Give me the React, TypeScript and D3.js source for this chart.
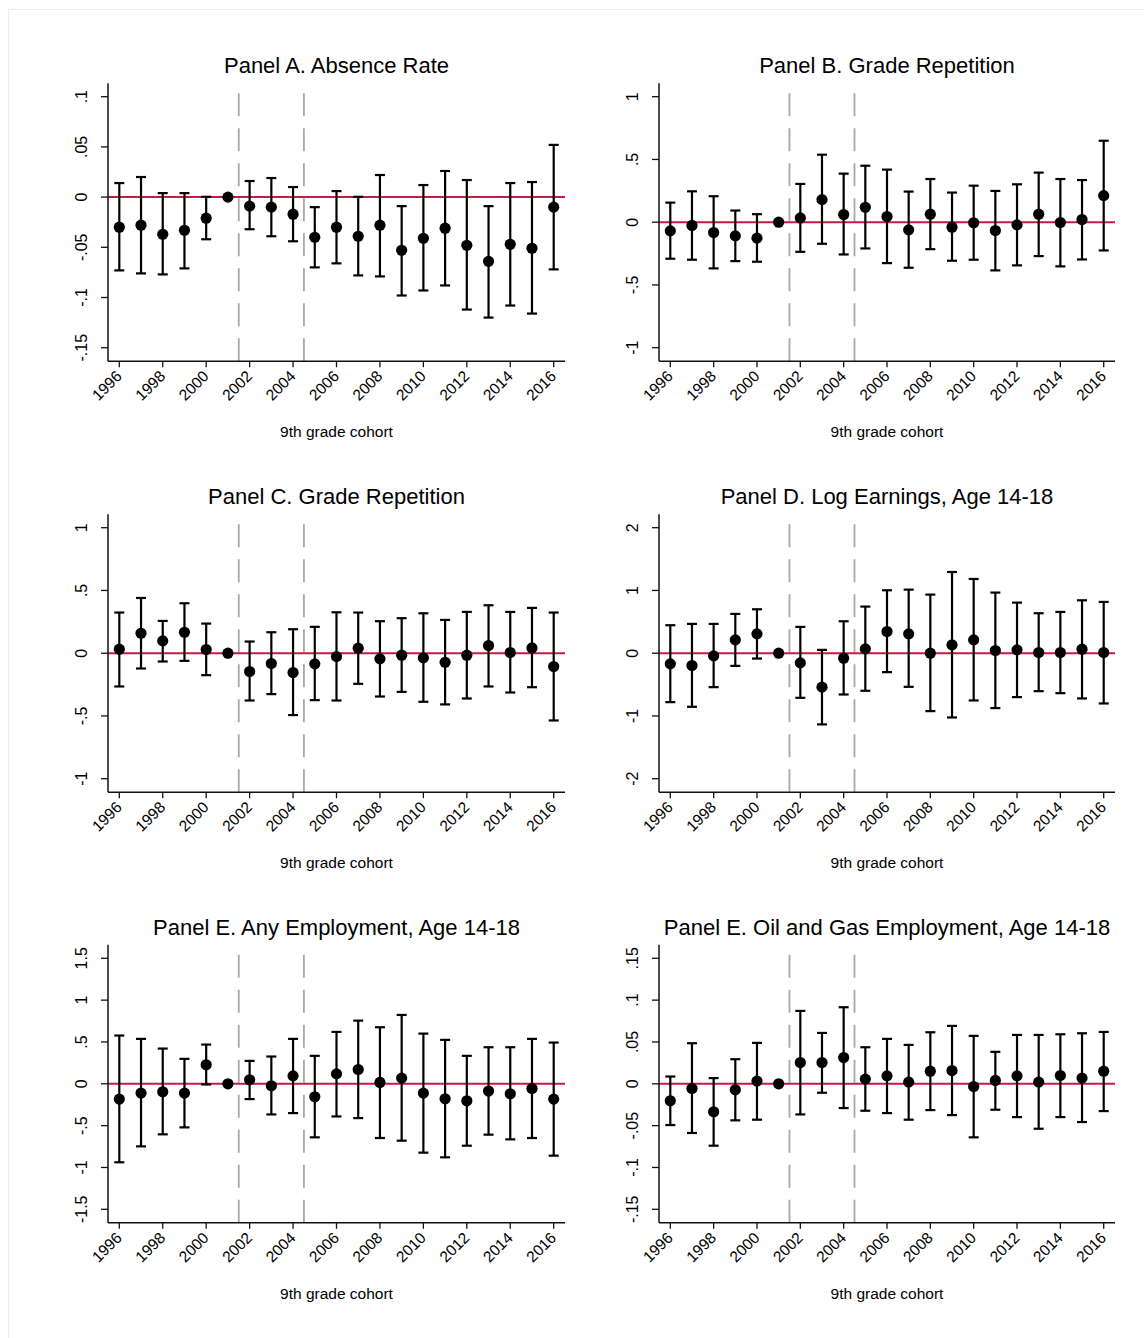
import React from "react";
import * as d3 from "d3";

const years = [1996, 1997, 1998, 1999, 2000, 2001, 2002, 2003, 2004, 2005, 2006, 2007, 2008, 2009, 2010, 2011, 2012, 2013, 2014, 2015, 2016];
const xTickYears = [1996, 1998, 2000, 2002, 2004, 2006, 2008, 2010, 2012, 2014, 2016];
const cutoffYears = [2001.5, 2004.5];

// Panel A. Absence Rate
const absEst = [-0.030, -0.028, -0.037, -0.033, -0.021, 0, -0.009, -0.010, -0.017, -0.040, -0.030, -0.039, -0.028, -0.053, -0.041, -0.031, -0.048, -0.064, -0.047, -0.051, -0.010];
const absHi = [0.014, 0.020, 0.004, 0.004, 0.0003, null, 0.016, 0.019, 0.010, -0.010, 0.006, 0.0003, 0.022, -0.009, 0.012, 0.026, 0.017, -0.009, 0.014, 0.015, 0.052];
const absLo = [-0.073, -0.076, -0.077, -0.071, -0.042, null, -0.032, -0.039, -0.044, -0.070, -0.066, -0.078, -0.079, -0.098, -0.093, -0.088, -0.112, -0.120, -0.108, -0.116, -0.072];
const absTicks = [0.1, 0.05, 0, -0.05, -0.1, -0.15];

// Panel B. Grade Repetition
const repBEst = [-0.069, -0.026, -0.082, -0.109, -0.127, 0, 0.034, 0.180, 0.061, 0.119, 0.045, -0.061, 0.064, -0.040, -0.005, -0.066, -0.021, 0.064, -0.003, 0.021, 0.212];
const repBHi = [0.156, 0.246, 0.207, 0.093, 0.064, null, 0.305, 0.538, 0.387, 0.450, 0.419, 0.244, 0.344, 0.236, 0.291, 0.249, 0.302, 0.395, 0.344, 0.336, 0.649];
const repBLo = [-0.291, -0.299, -0.368, -0.310, -0.315, null, -0.236, -0.172, -0.257, -0.209, -0.326, -0.363, -0.215, -0.307, -0.299, -0.384, -0.344, -0.270, -0.352, -0.297, -0.225];
const repBTicks = [1, 0.5, 0, -0.5, -1];

// Panel C. Grade Repetition
const repCEst = [0.032, 0.159, 0.098, 0.167, 0.029, 0, -0.146, -0.082, -0.154, -0.085, -0.027, 0.040, -0.045, -0.016, -0.037, -0.072, -0.016, 0.061, 0.005, 0.042, -0.106];
const repCHi = [0.324, 0.440, 0.257, 0.398, 0.236, null, 0.093, 0.167, 0.191, 0.210, 0.326, 0.324, 0.255, 0.279, 0.318, 0.265, 0.329, 0.382, 0.329, 0.361, 0.324];
const repCLo = [-0.265, -0.122, -0.066, -0.061, -0.175, null, -0.377, -0.326, -0.493, -0.374, -0.377, -0.244, -0.345, -0.308, -0.387, -0.408, -0.361, -0.265, -0.313, -0.271, -0.536];
const repCTicks = [1, 0.5, 0, -0.5, -1];

// Panel D. Log Earnings, Age 14-18
const earnEst = [-0.170, -0.196, -0.042, 0.212, 0.308, 0, -0.154, -0.541, -0.080, 0.069, 0.345, 0.308, 0.0, 0.133, 0.212, 0.042, 0.053, 0.011, 0.011, 0.064, 0.011];
const earnHi = [0.446, 0.467, 0.467, 0.626, 0.700, null, 0.419, 0.053, 0.509, 0.743, 1.003, 1.013, 0.934, 1.294, 1.183, 0.966, 0.806, 0.637, 0.658, 0.843, 0.817];
const earnLo = [-0.780, -0.854, -0.541, -0.202, -0.085, null, -0.711, -1.135, -0.658, -0.599, -0.302, -0.536, -0.923, -1.024, -0.753, -0.875, -0.700, -0.605, -0.637, -0.721, -0.801];
const earnTicks = [2, 1, 0, -1, -2];

// Panel E. Any Employment, Age 14-18
const empEst = [-0.183, -0.111, -0.095, -0.111, 0.227, 0, 0.048, -0.024, 0.095, -0.155, 0.119, 0.171, 0.016, 0.068, -0.111, -0.179, -0.203, -0.087, -0.119, -0.056, -0.183];
const empHi = [0.577, 0.537, 0.421, 0.298, 0.469, null, 0.274, 0.326, 0.537, 0.334, 0.620, 0.755, 0.676, 0.823, 0.600, 0.525, 0.334, 0.437, 0.437, 0.537, 0.493];
const empLo = [-0.938, -0.748, -0.604, -0.521, -0.008, null, -0.183, -0.366, -0.350, -0.640, -0.390, -0.410, -0.648, -0.680, -0.823, -0.879, -0.740, -0.608, -0.664, -0.648, -0.859];
const empTicks = [1.5, 1, 0.5, 0, -0.5, -1, -1.5];

// Panel E. Oil and Gas Employment, Age 14-18
const oilEst = [-0.0203, -0.0056, -0.0334, -0.0072, 0.0032, 0, 0.0254, 0.0254, 0.0314, 0.0056, 0.0095, 0.002, 0.0151, 0.0159, -0.0032, 0.004, 0.0095, 0.002, 0.0099, 0.0068, 0.0151];
const oilHi = [0.0087, 0.0485, 0.0068, 0.0294, 0.0489, null, 0.0871, 0.0608, 0.0915, 0.0437, 0.0537, 0.0465, 0.0616, 0.0692, 0.0573, 0.0382, 0.0584, 0.0584, 0.0592, 0.0604, 0.062];
const oilLo = [-0.0493, -0.0588, -0.074, -0.0437, -0.0429, null, -0.0366, -0.0107, -0.029, -0.0322, -0.035, -0.0429, -0.0314, -0.0374, -0.064, -0.031, -0.0398, -0.0537, -0.0398, -0.0457, -0.0326];
const oilTicks = [0.15, 0.1, 0.05, 0, -0.05, -0.1, -0.15];

const titles = [
  "Panel A. Absence Rate",
  "Panel B. Grade Repetition",
  "Panel C. Grade Repetition",
  "Panel D. Log Earnings, Age 14-18",
  "Panel E. Any Employment, Age 14-18",
  "Panel E. Oil and Gas Employment, Age 14-18",
];
const xTitle = "9th grade cohort";

const panelData = [
  { est: absEst, lo: absLo, hi: absHi, ticks: absTicks },
  { est: repBEst, lo: repBLo, hi: repBHi, ticks: repBTicks },
  { est: repCEst, lo: repCLo, hi: repCHi, ticks: repCTicks },
  { est: earnEst, lo: earnLo, hi: earnHi, ticks: earnTicks },
  { est: empEst, lo: empLo, hi: empHi, ticks: empTicks },
  { est: oilEst, lo: oilLo, hi: oilHi, ticks: oilTicks },
];

const FONT = "'Liberation Sans', Arial, Helvetica, sans-serif";
const colLeft = [108, 659];
const colRight = [565, 1115];
const rowTopTick = [96.7, 527.7, 958.3];
const TICK_SPAN = 251;
const AXIS_PAD = 13.5;
const X_PAD = 11.3;

function fmt(v: number): string {
  if (v === 0) return "0";
  let s = String(Math.round(v * 1000) / 1000);
  s = s.replace(/^0\./, ".").replace(/^-0\./, "-.");
  return s;
}

function Panel({ idx }: { idx: number }) {
  const col = idx % 2;
  const row = Math.floor(idx / 2);
  const d = panelData[idx];
  const left = colLeft[col];
  const right = colRight[col];
  const topTick = rowTopTick[row];
  const botTick = topTick + TICK_SPAN;
  const tMax = d3.max(d.ticks) as number;
  const tMin = d3.min(d.ticks) as number;
  const y = d3.scaleLinear().domain([tMin, tMax]).range([botTick, topTick]);
  const x = d3.scaleLinear().domain([1996, 2016]).range([left + X_PAD, right - X_PAD]);
  const axisTop = topTick - AXIS_PAD;
  const axisBot = botTick + AXIS_PAD;
  const cx = (left + right) / 2;
  const capW = 5;

  return (
    <g>
      <text x={cx} y={topTick - 23.5} textAnchor="middle" fontSize={22} fontFamily={FONT} fill="#000">
        {titles[idx]}
      </text>
      {cutoffYears.map((cy) => (
        <line key={cy} x1={x(cy)} x2={x(cy)} y1={axisBot} y2={axisTop} stroke="#a8a8a8" strokeWidth={1.8} strokeDasharray="23,12" />
      ))}
      <line x1={left} x2={right} y1={y(0)} y2={y(0)} stroke="#c8174a" strokeWidth={2} />
      <line x1={left} x2={left} y1={axisTop} y2={axisBot} stroke="#111" strokeWidth={1.5} />
      {d.ticks.map((t) => (
        <g key={t}>
          <line x1={left - 7} x2={left} y1={y(t)} y2={y(t)} stroke="#111" strokeWidth={1.3} />
          <text
            transform={`translate(${left - 21},${y(t)}) rotate(-90)`}
            textAnchor="middle"
            fontSize={16}
            fontFamily={FONT}
            fill="#000"
          >
            {fmt(t)}
          </text>
        </g>
      ))}
      <line x1={left} x2={right} y1={axisBot} y2={axisBot} stroke="#111" strokeWidth={1.5} />
      {xTickYears.map((yr) => (
        <g key={yr}>
          <line x1={x(yr)} x2={x(yr)} y1={axisBot} y2={axisBot + 6} stroke="#111" strokeWidth={1.3} />
          <text
            transform={`translate(${x(yr) + 3.5},${axisBot + 16}) rotate(-45)`}
            textAnchor="end"
            fontSize={15.5}
            fontFamily={FONT}
            fill="#000"
          >
            {yr}
          </text>
        </g>
      ))}
      <text x={cx} y={axisBot + 76} textAnchor="middle" fontSize={15.5} fontFamily={FONT} fill="#000">
        {xTitle}
      </text>
      {years.map((yr, i) => {
        const lo = d.lo[i];
        const hi = d.hi[i];
        if (lo === null || hi === null) return null;
        const px = x(yr);
        return (
          <g key={yr} stroke="#000" strokeWidth={2.2}>
            <line x1={px} x2={px} y1={y(lo)} y2={y(hi)} />
            <line x1={px - capW} x2={px + capW} y1={y(lo)} y2={y(lo)} />
            <line x1={px - capW} x2={px + capW} y1={y(hi)} y2={y(hi)} />
          </g>
        );
      })}
      {years.map((yr, i) => (
        <circle key={yr} cx={x(yr)} cy={y(d.est[i])} r={5.6} fill="#000" />
      ))}
    </g>
  );
}

export default function App() {
  return (
    <svg
      width={1144}
      height={1338}
      style={{ position: "absolute", left: 0, top: 0, background: "#fff" }}
    >
      <rect x={0} y={0} width={1144} height={1338} fill="#fff" />
      <rect x={8.5} y={9.5} width={1150} height={1340} fill="none" stroke="#ececec" strokeWidth={1} />
      {panelData.map((_, i) => (
        <Panel key={i} idx={i} />
      ))}
    </svg>
  );
}
